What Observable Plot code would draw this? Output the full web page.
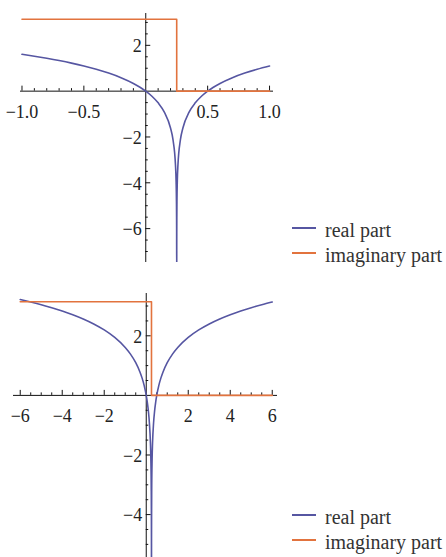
<!DOCTYPE html>
<html>
<head>
<meta charset="utf-8">
<script src="https://cdn.jsdelivr.net/npm/d3@7"></script>
<script src="https://cdn.jsdelivr.net/npm/@observablehq/plot@0.6"></script>
<style>
  html, body { margin: 0; padding: 0; background: #fff; }
  #page { position: relative; width: 446px; height: 557px; overflow: hidden; font-family: "Liberation Serif", "DejaVu Serif", serif; }
  .chart { position: absolute; left: 0; }
  .chart svg { display: block; overflow: visible; }
  .sw { position: absolute; left: 292px; width: 24px; height: 2px; }
  .lt { position: absolute; left: 325px; font-size: 20px; line-height: 20px; color: #333; white-space: nowrap; }
</style>
</head>
<body>
<div id="page">
  <div id="c1" class="chart" style="top:0px"></div>
  <div id="c2" class="chart" style="top:270px"></div>
</div>
<script>
// ---------- Data ----------
// Top panel: x in [-1, 1]
const realX1 = [-1.0, -0.9, -0.8, -0.7, -0.6, -0.5, -0.4, -0.3, -0.2, -0.1, 0, 0.05, 0.1, 0.15, 0.2, 0.22, 0.24, 0.245, 0.248, 0.249, 0.2495, 0.2499,
                0.2501, 0.2505, 0.251, 0.252, 0.255, 0.26, 0.28, 0.3, 0.35, 0.4, 0.45, 0.5, 0.6, 0.7, 0.8, 0.9, 1.0];
const realY1 = [1.609, 1.526, 1.435, 1.335, 1.224, 1.099, 0.956, 0.788, 0.588, 0.336, 0, -0.223, -0.511, -0.916, -1.609, -2.120, -3.219, -3.912, -4.828, -5.521, -6.215, -7.824,
                -7.824, -6.215, -5.521, -4.828, -3.912, -3.219, -2.120, -1.609, -0.916, -0.511, -0.223, 0, 0.336, 0.588, 0.788, 0.956, 1.099];
const imagX1 = [-1.0, 0.25, 1.0];
const imagY1 = [3.1416, 0, 0];

// Bottom panel: x in [-6, 6]
const realX2 = [-6, -5.5, -5, -4.5, -4, -3.5, -3, -2.5, -2, -1.5, -1, -0.75, -0.5, -0.3, -0.2, -0.1, 0, 0.05, 0.1, 0.15, 0.2, 0.22, 0.24, 0.245, 0.248, 0.249, 0.2499,
                0.2501, 0.251, 0.252, 0.255, 0.26, 0.28, 0.3, 0.35, 0.4, 0.45, 0.5, 0.6, 0.7, 0.8, 1, 1.25, 1.5, 2, 2.5, 3, 3.5, 4, 4.5, 5, 5.5, 6];
const realY2 = [3.219, 3.135, 3.045, 2.944, 2.833, 2.708, 2.565, 2.398, 2.197, 1.946, 1.609, 1.386, 1.099, 0.788, 0.588, 0.336, 0, -0.223, -0.511, -0.916, -1.609, -2.120, -3.219, -3.912, -4.828, -5.521, -7.824,
                -7.824, -5.521, -4.828, -3.912, -3.219, -2.120, -1.609, -0.916, -0.511, -0.223, 0, 0.336, 0.588, 0.788, 1.099, 1.386, 1.609, 1.946, 2.197, 2.398, 2.565, 2.708, 2.833, 2.944, 3.045, 3.135];
const imagX2 = [-6, 0.25, 6];
const imagY2 = [3.1416, 0, 0];

// Ticks
const xMajor1 = [-1.0, -0.5, 0.5, 1.0];
const xLabels1 = ["\u22121.0", "\u22120.5", "0.5", "1.0"];
const xMinor1 = [-0.9, -0.8, -0.7, -0.6, -0.4, -0.3, -0.2, -0.1, 0.1, 0.2, 0.3, 0.4, 0.6, 0.7, 0.8, 0.9];
const yMajor1 = [-6, -4, -2, 2];
const yLabels1 = ["\u22126", "\u22124", "\u22122", "2"];
const yMinor1 = [-7, -6.5, -5.5, -5, -4.5, -3.5, -3, -2.5, -1.5, -1, -0.5, 0.5, 1, 1.5, 2.5, 3];

const xMajor2 = [-6, -4, -2, 2, 4, 6];
const xLabels2 = ["\u22126", "\u22124", "\u22122", "2", "4", "6"];
const xMinor2 = [-5.5, -5, -4.5, -3.5, -3, -2.5, -1.5, -1, -0.5, 0.5, 1, 1.5, 2.5, 3, 3.5, 4.5, 5, 5.5];
const yMajor2 = [-4, -2, 2];
const yLabels2 = ["\u22124", "\u22122", "2"];
const yMinor2 = [-5, -4.5, -3.5, -3, -2.5, -1.5, -1, -0.5, 0.5, 1, 1.5, 2.5, 3];

const seriesNames = ["real part", "imaginary part"];
const colors = ["#5656a2", "#e2733e"];

// ---------- Drawing ----------
const FONT = "Liberation Serif";
function panel(cfg) {
  const real = cfg.realX.map((x, i) => ({x, y: cfg.realY[i]}));
  const imag = cfg.imagX.map((x, i) => ({x, y: cfg.imagY[i]}));
  return Plot.plot({
    width: 446,
    height: cfg.height,
    marginTop: cfg.mt, marginBottom: cfg.mb, marginLeft: cfg.ml, marginRight: cfg.mr,
    x: {domain: cfg.xdom, axis: null},
    y: {domain: cfg.ydom, axis: null},
    style: {background: "white", overflow: "visible"},
    marks: [
      Plot.ruleY([0], {stroke: "#111", strokeWidth: 1}),
      Plot.ruleX([0], {stroke: "#111", strokeWidth: 1}),
      Plot.ruleX(cfg.xMajor, {x: d => d, y1: 0, y2: 0, insetTop: -5, insetBottom: 0, stroke: "#111"}),
      Plot.ruleX(cfg.xMinor, {x: d => d, y1: 0, y2: 0, insetTop: -2.5, insetBottom: 0, stroke: "#111"}),
      Plot.ruleY(cfg.yMajor, {y: d => d, x1: 0, x2: 0, insetLeft: 0, insetRight: -5, stroke: "#111"}),
      Plot.ruleY(cfg.yMinor, {y: d => d, x1: 0, x2: 0, insetLeft: 0, insetRight: -2.5, stroke: "#111"}),
      Plot.text(cfg.xMajor, {x: d => d, y: () => 0, text: cfg.xLabels, dy: 21, fontSize: 18, fontFamily: FONT, fill: "#222", textAnchor: "middle", lineAnchor: "middle"}),
      Plot.text(cfg.yMajor, {x: () => 0, y: d => d, text: cfg.yLabels, dx: -4, dy: 1, fontSize: 18, fontFamily: FONT, fill: "#222", textAnchor: "end", lineAnchor: "middle"}),
      Plot.line(real, {x: "x", y: "y", stroke: colors[0], strokeWidth: 1.6, curve: "monotone-x", clip: true}),
      Plot.line(imag, {x: "x", y: "y", stroke: colors[1], strokeWidth: 1.6, curve: "step-after", clip: true})
    ]
  });
}

document.getElementById("c1").appendChild(panel({
  realX: realX1, realY: realY1, imagX: imagX1, imagY: imagY1,
  xMajor: xMajor1, xLabels: xLabels1, xMinor: xMinor1,
  yMajor: yMajor1, yLabels: yLabels1, yMinor: yMinor1,
  height: 270, mt: 13, mb: 8, ml: 20, mr: 173,
  xdom: [-1.012, 1.032], ydom: [-7.48, 3.39]
}));
document.getElementById("c2").appendChild(panel({
  realX: realX2, realY: realY2, imagX: imagX2, imagY: imagY2,
  xMajor: xMajor2, xLabels: xLabels2, xMinor: xMinor2,
  yMajor: yMajor2, yLabels: yLabels2, yMinor: yMinor2,
  height: 287, mt: 23, mb: 0, ml: 13, mr: 169,
  xdom: [-6.32, 6.25], ydom: [-5.44, 3.42]
}));

// Legends (HTML, beside each panel)
const page = document.getElementById("page");
function legend(rowYs) {
  seriesNames.forEach((name, i) => {
    const sw = document.createElement("div");
    sw.className = "sw";
    sw.style.top = (rowYs[i] - 1) + "px";
    sw.style.background = colors[i];
    page.appendChild(sw);
    const t = document.createElement("div");
    t.className = "lt";
    t.style.top = (rowYs[i] - 8) + "px";
    t.textContent = name;
    page.appendChild(t);
  });
}
legend([228, 253]);
legend([515, 540]);
</script>
</body>
</html>
